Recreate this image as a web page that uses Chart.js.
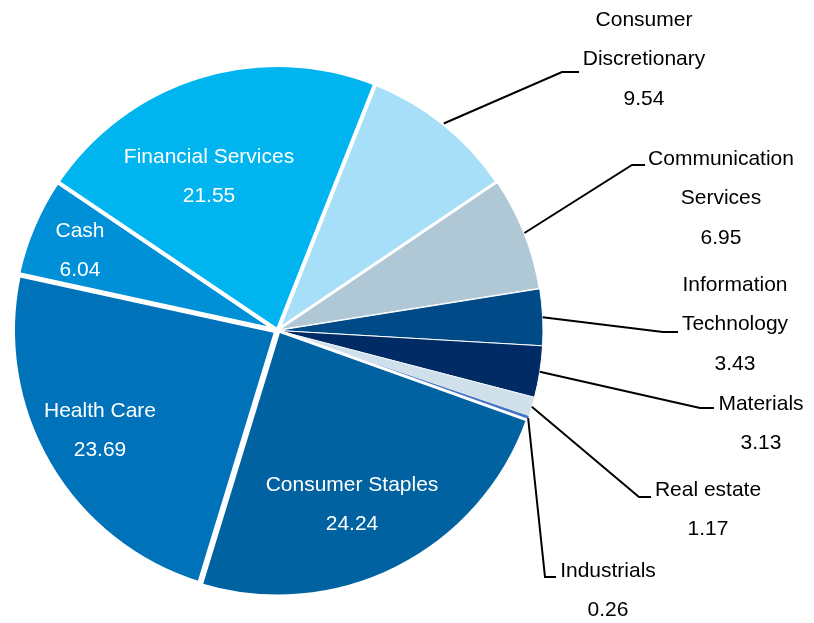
<!DOCTYPE html>
<html>
<head>
<meta charset="utf-8">
<script src="https://cdn.jsdelivr.net/npm/chart.js@4"></script>
<style>
  html, body { margin: 0; padding: 0; background: #fff; }
  #wrap { width: 814px; height: 623px; }
</style>
</head>
<body>
<div id="wrap"><canvas id="sectorChart"></canvas></div>
<script>
// sector weights, clockwise from Consumer Discretionary
var sectors = ['Consumer Discretionary', 'Communication Services', 'Information Technology', 'Materials',
  'Real estate', 'Industrials', 'Consumer Staples', 'Health Care', 'Cash', 'Financial Services'];
var weights = [9.54, 6.95, 3.43, 3.13, 1.17, 0.26, 24.24, 23.69, 6.04, 21.55];

var sliceColors = ['#A8DFF8', '#B0C8D6', '#004B87', '#002B64', '#D0E0EA', '#4472C4',
  '#0062A0', '#0072BA', '#0090D8', '#00B4F0'];
var sliceBorders = [4, 2, 1, 1, 0.5, 0, 3, 6, 4, 4];

// label text lines (name split like the original) + where they go
var labelLines = [
  ['Consumer', 'Discretionary'], ['Communication', 'Services'], ['Information', 'Technology'], ['Materials'],
  ['Real estate'], ['Industrials'], ['Consumer Staples'], ['Health Care'], ['Cash'], ['Financial Services']
];
// x, first line y, elbow x/y + end of the short flat bit (inside = label sits in the slice)
var labelPos = [
  {x: 644, y: 20, ex: 562, ey: 72, hx: 579},
  {x: 721, y: 159, ex: 632, ey: 165, hx: 645},
  {x: 735, y: 285, ex: 663, ey: 332, hx: 678},
  {x: 761, y: 404, ex: 700, ey: 408, hx: 714},
  {x: 708, y: 490, ex: 639, ey: 497, hx: 651},
  {x: 608, y: 571, ex: 545, ey: 577, hx: 556},
  {x: 352, y: 485, inside: true},
  {x: 100, y: 411, inside: true},
  {x: 80, y: 231, inside: true},
  {x: 209, y: 157, inside: true}
];

var labelPlugin = {
  id: 'sectorLabels',
  afterDatasetsDraw: function(chart) {
    var ctx = chart.ctx;
    var arcs = chart.getDatasetMeta(0).data;
    ctx.save();
    ctx.font = '21px "Liberation Sans", Arial, sans-serif';
    ctx.textAlign = 'center';
    ctx.textBaseline = 'middle';
    arcs.forEach(function(arc, i) {
      var p = labelPos[i];
      var lines = labelLines[i].concat([weights[i].toFixed(2)]);
      if (!p.inside) {
        // leader line from the slice's outer edge at mid angle
        var mid = (arc.startAngle + arc.endAngle) / 2;
        var sx = arc.x + Math.cos(mid) * arc.outerRadius;
        var sy = arc.y + Math.sin(mid) * arc.outerRadius;
        ctx.strokeStyle = '#000';
        ctx.lineWidth = 2;
        ctx.beginPath();
        ctx.moveTo(sx, sy);
        ctx.lineTo(p.ex, p.ey);
        ctx.lineTo(p.hx, p.ey);
        ctx.stroke();
        ctx.fillStyle = '#000';
      } else {
        ctx.fillStyle = '#fff';
      }
      lines.forEach(function(t, k) {
        ctx.fillText(t, p.x, p.y + k * 39.5);
      });
    });
    ctx.restore();
  }
};

new Chart(document.getElementById('sectorChart'), {
  type: 'pie',
  data: {
    labels: sectors,
    datasets: [{
      data: weights,
      backgroundColor: sliceColors,
      borderColor: '#fff',
      borderWidth: sliceBorders
    }]
  },
  options: {
    responsive: true,
    maintainAspectRatio: false,
    animation: false,
    rotation: 21.6,
    layout: { padding: { left: 9, right: 268, top: 62, bottom: 24 } },
    plugins: {
      legend: { display: false },
      tooltip: { enabled: false }
    }
  },
  plugins: [labelPlugin]
});
</script>
</body>
</html>
